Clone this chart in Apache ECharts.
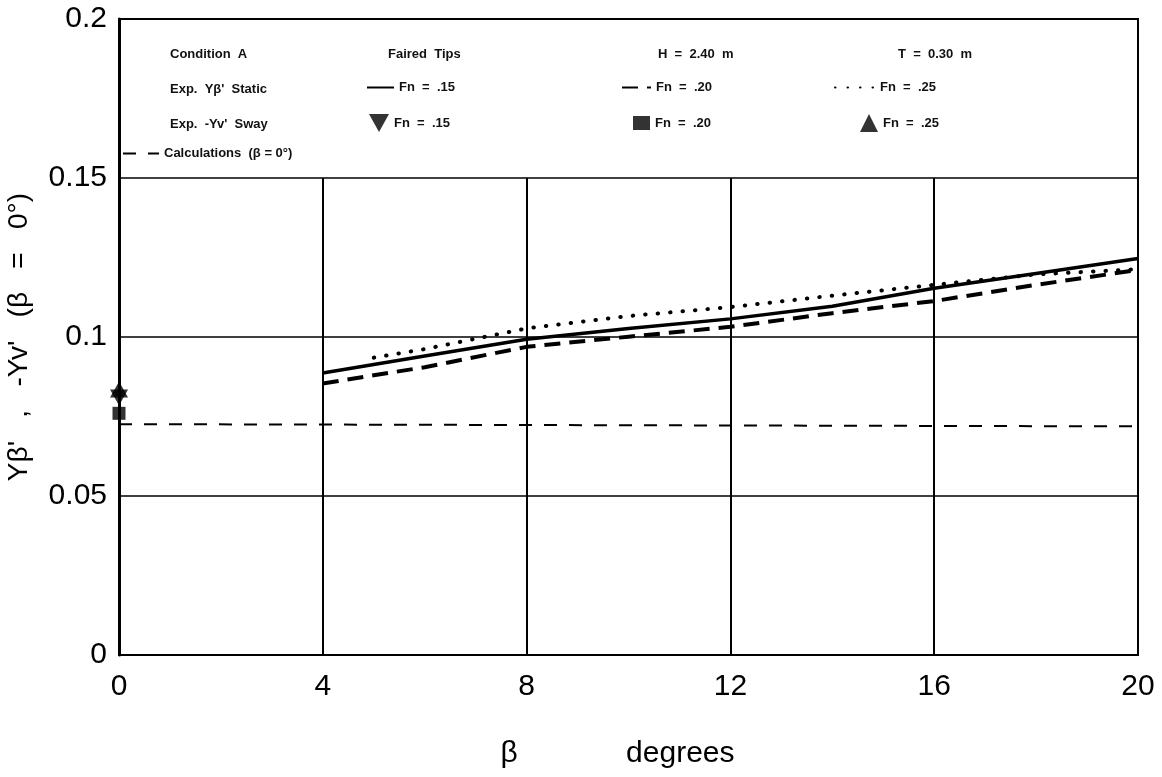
<!DOCTYPE html>
<html>
<head>
<meta charset="utf-8">
<script src="https://cdn.jsdelivr.net/npm/echarts@6/dist/echarts.min.js"></script>
<style>html,body{margin:0;background:#fff}#chart{width:1162px;height:777px}</style>
</head>
<body>
<div id="chart"></div>
<script>
// axes
var xTicks = [0, 4, 8, 12, 16, 20];
var yTicks = [0, 0.05, 0.1, 0.15, 0.2];
var gridTop = 0.15;   // vertical grid lines stop under the legend box

// Exp. YB' static (lines)
var betaStatic = [4, 6, 8, 10, 12, 14, 16, 18, 20];
var static15 = [0.0887, 0.0940, 0.0993, 0.1027, 0.1057, 0.1097, 0.1153, 0.1200, 0.1247];
var static20 = [0.0854, 0.0905, 0.0969, 0.1001, 0.1032, 0.1075, 0.1113, 0.1164, 0.1211];
var betaStatic25 = [5, 6, 8, 10, 12, 14, 16, 18, 20];
var static25 = [0.0935, 0.0962, 0.1027, 0.1066, 0.1094, 0.1130, 0.1164, 0.1197, 0.1213];

// Exp. -Yv' sway (points at beta = 0)
var sway15 = [[0, 0.0810]];
var sway20 = [[0, 0.0760]];
var sway25 = [[0, 0.0835]];

// Calculations (beta = 0)
var betaCalc = [0, 20];
var calc = [0.0726, 0.0719];

var labels = {
  s15: 'Fn  =  .15', s20: 'Fn  =  .20', s25: 'Fn  =  .25',
  w15: 'Fn  =  .15', w20: 'Fn  =  .20', w25: 'Fn  =  .25',
  calc: 'Calculations  (β = 0°)'
};

var triDown = 'path://M0,0 L20,0 L10,18 Z';

function pairs(xs, ys) {
  return xs.map(function (x, i) { return [x, ys[i]]; });
}

var font = 'Liberation Sans, Arial, sans-serif';
var legendText = { fontFamily: font, fontSize: 13, fontWeight: 'bold', color: '#111' };

function oneLegend(name, left, top, w, h, isLine) {
  var lg = {
    data: [name], left: left, top: top, padding: 0,
    itemWidth: w, itemHeight: h, itemGap: 0,
    selectedMode: false,
    textStyle: legendText,
    formatter: function (n) { return labels[n]; }
  };
  if (isLine) lg.itemStyle = { opacity: 0 };
  return lg;
}

var vLines = xTicks.slice(1, -1).map(function (x) {
  return [{ coord: [x, 0] }, { coord: [x, gridTop] }];
});

function textAt(str, x, y) {
  return { type: 'text', left: x, top: y, style: { text: str, font: 'bold 13px ' + font, fill: '#111' } };
}

var myChart = echarts.init(document.getElementById('chart'));
var option = {
  backgroundColor: '#fff',
  animation: false,
  grid: {
    left: 119, right: 24, top: 19, bottom: 122,
    outerBoundsMode: 'none',
    show: true, borderColor: '#000', borderWidth: 2
  },
  xAxis: {
    type: 'value', min: 0, max: 20, interval: 4,
    name: 'β             degrees',
    nameLocation: 'middle', nameGap: 84,
    nameTextStyle: { fontFamily: font, fontSize: 30, color: '#000', padding: [0, 22, 0, 0] },
    axisLine: { lineStyle: { color: '#000', width: 2 } },
    axisTick: { show: false },
    splitLine: { show: false },
    axisLabel: { fontFamily: font, fontSize: 30, color: '#000', margin: 17 }
  },
  yAxis: {
    type: 'value', min: 0, max: 0.2, interval: 0.05,
    name: "Yβ'   ,   -Yv'   (β   =   0°)",
    nameLocation: 'middle', nameGap: 86,
    nameTextStyle: { fontFamily: font, fontSize: 28, color: '#000' },
    axisLine: { show: true, lineStyle: { color: '#000', width: 3 } },
    axisTick: { show: false },
    splitLine: { show: true, lineStyle: { color: '#000', width: 1.5 } },
    axisLabel: { fontFamily: font, fontSize: 30, color: '#000', margin: 12 }
  },
  legend: [
    oneLegend('s15', 366, 81, 27, 14, true),
    oneLegend('s20', 621, 81, 29, 14, true),
    oneLegend('s25', 834, 81, 40, 14, true),
    oneLegend('w15', 369, 114, 20, 18),
    oneLegend('w20', 633, 116, 17, 14),
    oneLegend('w25', 860, 114, 18, 18),
    oneLegend('calc', 122, 147, 36, 14, true)
  ],
  graphic: [
    textAt('Condition  A', 170, 48),
    textAt('Faired  Tips', 388, 48),
    textAt('H  =  2.40  m', 658, 48),
    textAt('T  =  0.30  m', 898, 48),
    textAt("Exp.  Yβ'  Static", 170, 83),
    textAt("Exp.  -Yv'  Sway", 170, 118)
  ],
  series: [
    {
      name: 'grid', type: 'line', data: [], silent: true,
      markLine: {
        symbol: 'none', silent: true, label: { show: false },
        lineStyle: { color: '#000', width: 2, type: 'solid' },
        data: vLines
      }
    },
    {
      name: 'calc', type: 'line', symbol: 'none', data: pairs(betaCalc, calc),
      itemStyle: { color: '#000' },
      lineStyle: { color: '#000', width: 2, type: [13, 12] }
    },
    {
      name: 's15', type: 'line', symbol: 'none', data: pairs(betaStatic, static15),
      itemStyle: { color: '#000' },
      lineStyle: { color: '#000', width: 3.5 }
    },
    {
      name: 's20', type: 'line', symbol: 'none', data: pairs(betaStatic, static20),
      itemStyle: { color: '#000' },
      lineStyle: { color: '#000', width: 4, type: [16, 9] }
    },
    {
      name: 's25', type: 'line', symbol: 'none', data: pairs(betaStatic25, static25),
      itemStyle: { color: '#000' },
      lineStyle: { color: '#000', width: 4, type: [0.5, 12], cap: 'round' }
    },
    {
      name: 'w20', type: 'scatter', symbol: 'rect', symbolSize: 13, clip: false,
      data: sway20, itemStyle: { color: '#000' }
    },
    {
      name: 'w15', type: 'scatter', symbol: triDown, symbolSize: [18, 16], clip: false,
      data: sway15, itemStyle: { color: '#000' }
    },
    {
      name: 'w25', type: 'scatter', symbol: 'triangle', symbolSize: [18, 16], clip: false,
      data: sway25, itemStyle: { color: '#000' }
    }
  ]
};
myChart.setOption(option);
</script>
</body>
</html>
